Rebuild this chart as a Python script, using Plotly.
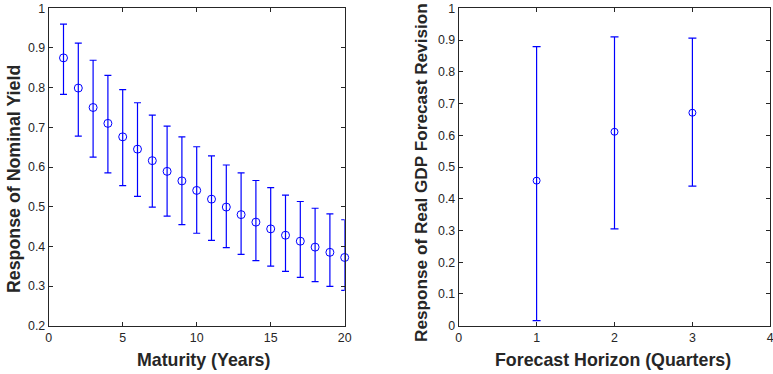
import plotly.graph_objects as go

# Left panel data
maturity = list(range(1, 21))
yield_resp = [0.875, 0.799, 0.750, 0.710, 0.676, 0.645, 0.616, 0.589, 0.565, 0.541,
              0.519, 0.499, 0.480, 0.461, 0.444, 0.428, 0.413, 0.398, 0.385, 0.372]
yield_upper = [0.960, 0.912, 0.869, 0.831, 0.795, 0.762, 0.731, 0.703, 0.676, 0.651,
               0.628, 0.605, 0.585, 0.566, 0.548, 0.529, 0.513, 0.496, 0.482, 0.467]
yield_lower = [0.783, 0.678, 0.625, 0.585, 0.553, 0.526, 0.499, 0.476, 0.455, 0.433,
               0.415, 0.397, 0.380, 0.364, 0.350, 0.337, 0.322, 0.311, 0.299, 0.289]

# Right panel data
horizon = [1, 2, 3]
gdp_resp = [0.457, 0.611, 0.671]
gdp_upper = [0.879, 0.910, 0.906]
gdp_lower = [0.016, 0.305, 0.440]

BLUE = "#0000FF"
AX = "#262626"
FONT = "Liberation Sans, Arial, Helvetica, sans-serif"
W, H = 773, 374

fig = go.Figure()
fig.add_trace(go.Scatter(
    x=maturity, y=yield_resp, mode="markers", xaxis="x", yaxis="y", cliponaxis=False,
    marker=dict(symbol="circle-open", size=8, color=BLUE, line=dict(width=1, color=BLUE)),
    error_y=dict(type="data", symmetric=False,
                 array=[u - v for u, v in zip(yield_upper, yield_resp)],
                 arrayminus=[v - l for v, l in zip(yield_resp, yield_lower)],
                 color=BLUE, thickness=1.2, width=3.5),
    showlegend=False))
fig.add_trace(go.Scatter(
    x=horizon, y=gdp_resp, mode="markers", xaxis="x2", yaxis="y2", cliponaxis=False,
    marker=dict(symbol="circle-open", size=7, color=BLUE, line=dict(width=1, color=BLUE)),
    error_y=dict(type="data", symmetric=False,
                 array=[u - v for u, v in zip(gdp_upper, gdp_resp)],
                 arrayminus=[v - l for v, l in zip(gdp_resp, gdp_lower)],
                 color=BLUE, thickness=1.2, width=4),
    showlegend=False))

common = dict(showgrid=False, zeroline=False, showline=True, linecolor=AX, linewidth=1,
              mirror="ticks", ticks="inside", ticklen=4, tickcolor=AX, tickwidth=1,
              tickfont=dict(family=FONT, size=12.4, color=AX), automargin=False,
              ticklabeloverflow="allow")

def tfont(size=17.8):
    return dict(family=FONT, size=size, color=AX, weight="bold")

ydom = [(H - 325.7) / H, (H - 8.3) / H]
fig.update_layout(
    width=W, height=H,
    margin=dict(l=0, r=0, t=0, b=0),
    paper_bgcolor="white", plot_bgcolor="white",
    xaxis=dict(domain=[48.7 / W, 344.7 / W], range=[0, 20], tickvals=[0, 5, 10, 15, 20],
               anchor="y", **common),
    yaxis=dict(domain=ydom, range=[0.2, 1], tickvals=[0.2, 0.3, 0.4, 0.5, 0.6, 0.7, 0.8, 0.9, 1],
               ticktext=["0.2", "0.3", "0.4", "0.5", "0.6", "0.7", "0.8", "0.9", "1"],
               anchor="x", **common),
    xaxis2=dict(domain=[458.7 / W, 770.3 / W], range=[0, 4], tickvals=[0, 1, 2, 3, 4],
                anchor="y2", **common),
    yaxis2=dict(domain=ydom, range=[0, 1], tickvals=[0, 0.1, 0.2, 0.3, 0.4, 0.5, 0.6, 0.7, 0.8, 0.9, 1],
                ticktext=["0", "0.1", "0.2", "0.3", "0.4", "0.5", "0.6", "0.7", "0.8", "0.9", "1"],
                anchor="x2", **common),
)

def title(text, cx, cy, angle=0, size=17.8):
    fig.add_annotation(text=text, xref="paper", yref="paper", x=cx / W, y=(H - cy) / H,
                       xanchor="center", yanchor="middle", showarrow=False, textangle=angle,
                       font=tfont(size))

title("Maturity (Years)", 203, 360)
title("Forecast Horizon (Quarters)", 612.5, 360)
title("Response of Nominal Yield", 13.5, 179.5, -90)
title("Response of Real GDP Forecast Revision", 421, 173, -90, 17.2)

fig.write_html("out.html")
